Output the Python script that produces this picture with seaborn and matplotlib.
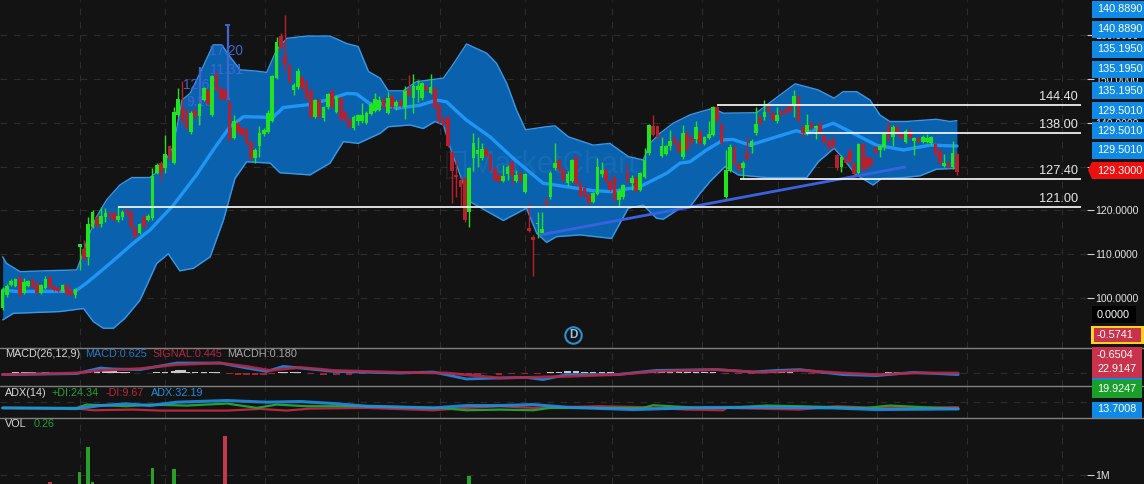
import numpy as np
import pandas as pd
import seaborn as sns
import matplotlib.pyplot as plt
from matplotlib.patches import Rectangle, Polygon
from matplotlib.lines import Line2D

# price candles
opens = [97.6,100.7,103.0,102.7,104.7,101.1,102.7,104.3,103.4,101.1,
         102.2,104.7,102.7,102.2,101.7,103.0,101.8,100.7,111.7,111.1,
         109.4,116.3,118.6,116.9,118.4,119.3,119.3,117.8,118.6,120.1,
         119.7,116.3,114.8,118.6,117.8,118.2,128.6,130.9,129.6,134.8,
         130.8,141.8,143.5,142.9,137.8,142.9,141.6,145.2,147.5,141.8,
         151.3,147.9,147.5,144.8,136.5,139.9,138.7,138.5,135.7,131.9,
         134.6,137.4,138.0,140.5,150.2,159.8,155.5,153.2,147.6,148.1,
         150.4,149.4,147.5,141.4,145.2,141.2,143.5,147.3,142.5,145.6,
         142.5,140.8,138.7,140.3,140.3,140.0,142.0,142.8,142.9,145.4,
         142.3,146.1,143.8,145.1,143.7,147.5,145.6,147.5,145.6,148.3,
         146.9,147.9,144.0,141.0,141.3,133.4,128.1,126.9,127.3,119.7,
         131.9,132.9,131.9,134.0,132.9,129.6,128.1,126.8,128.3,131.0,
         126.8,128.6,124.3,115.9,114.0,116.9,114.8,122.0,123.0,129.6,
         131.5,129.4,126.3,126.8,132.1,126.3,125.0,123.5,122.0,123.8,
         128.3,129.2,126.6,127.7,122.4,123.0,128.6,126.3,127.3,124.7,
         127.7,133.0,139.3,139.3,132.4,132.9,134.7,136.7,135.7,132.3,
         137.6,136.8,136.2,138.0,135.2,136.5,137.2,143.5,139.7,123.1,
         129.1,134.4,130.7,129.6,133.0,134.5,137.6,141.0,141.4,143.8,
         142.2,140.3,142.8,143.1,143.8,143.8,146.0,139.1,137.6,139.9,
         138.7,139.5,137.0,136.1,136.4,132.6,130.0,132.1,133.8,130.7,
         128.6,135.2,132.1,131.9,134.5,133.8,134.5,139.1,136.8,139.1,
         137.6,135.7,138.2,135.9,136.5,135.7,135.7,135.5,135.2,133.8,
         130.1,130.9,129.8,132.9]
closes = [101.8,102.7,103.9,104.3,100.7,103.7,103.9,102.6,101.1,103.0,
          104.3,102.4,101.8,101.7,103.0,100.9,100.7,102.0,112.3,108.8,
          116.9,119.7,116.4,118.7,119.3,118.6,117.9,118.7,119.7,119.3,
          116.3,114.0,116.9,116.3,118.8,127.9,130.4,128.6,132.9,131.7,
          142.5,145.5,140.3,138.7,142.3,141.4,144.3,147.9,144.4,150.7,
          147.5,145.4,145.4,136.1,140.3,137.8,137.2,135.3,131.9,133.9,
          137.6,138.4,142.2,150.7,158.5,157.0,153.2,149.4,148.6,151.9,
          147.9,145.6,141.4,145.1,141.4,143.5,146.5,143.7,146.1,140.8,
          140.8,139.0,141.4,141.8,141.8,142.3,144.4,145.4,145.2,143.5,
          145.6,143.5,144.8,143.8,147.3,146.4,148.3,148.3,149.2,147.6,
          148.1,143.7,140.3,139.5,134.7,128.9,127.7,125.4,117.7,129.6,
          135.5,133.8,134.0,132.4,129.2,126.9,126.6,127.9,130.0,128.1,
          128.1,126.8,128.3,115.2,113.3,117.2,115.8,121.5,128.5,130.9,
          129.4,126.9,128.3,131.5,126.0,123.3,123.2,121.8,123.9,129.8,
          129.2,126.6,124.7,122.4,124.5,125.8,126.6,127.3,124.5,128.5,
          131.5,139.5,137.2,136.8,134.7,134.7,135.9,135.3,133.4,137.6,
          133.8,135.3,139.0,135.3,136.7,137.4,143.5,140.5,135.5,129.2,
          134.4,130.6,129.2,130.9,131.7,135.9,139.7,139.9,142.5,142.5,
          140.6,141.8,141.8,142.2,142.8,146.1,140.5,137.6,139.5,138.7,
          139.3,137.6,135.7,134.2,134.5,129.6,132.3,130.9,131.1,128.3,
          135.2,129.2,129.6,130.4,133.2,134.7,137.4,136.2,139.1,137.6,
          136.5,138.2,136.5,136.5,135.7,136.8,136.5,136.8,132.6,130.9,
          130.9,130.0,133.0,128.8]
highs = [102.6,103.2,104.3,104.6,105.0,104.5,104.2,104.6,103.7,103.3,
         105.0,105.0,103.0,102.6,103.3,103.2,102.0,102.3,112.4,113.2,
         118.6,120.0,118.9,120.7,120.5,119.6,119.6,120.9,120.0,120.3,
         120.0,116.5,117.2,118.9,119.2,129.6,130.8,131.2,137.2,135.0,
         143.5,147.9,149.6,143.2,142.7,143.2,144.6,148.2,147.8,151.0,
         151.6,148.2,147.7,145.1,141.8,140.2,139.0,138.8,136.0,134.2,
         139.3,138.7,143.0,151.0,159.7,160.5,164.6,153.5,149.0,152.4,
         150.7,149.7,147.8,145.4,145.5,143.8,146.8,147.8,146.4,145.9,
         142.8,141.1,141.7,142.1,144.6,142.6,144.7,146.7,146.2,145.7,
         147.1,146.4,145.1,145.4,148.3,150.9,151.1,149.8,149.4,148.6,
         151.1,148.2,144.3,141.3,141.6,133.7,132.0,127.7,127.6,129.9,
         137.6,136.8,135.3,134.3,133.2,129.9,128.4,130.4,130.4,131.3,
         129.2,128.9,128.6,121.6,114.4,119.7,119.7,123.1,129.0,135.3,
         131.8,129.7,128.9,131.8,132.4,126.6,125.3,123.8,124.2,131.9,
         131.1,129.5,126.9,128.0,124.8,126.1,130.8,128.1,127.6,128.8,
         134.2,139.8,141.8,139.6,136.8,135.0,138.4,137.0,136.0,139.5,
         137.9,137.1,140.3,138.3,137.0,140.3,143.8,143.8,140.0,133.8,
         135.2,134.7,131.0,131.2,136.8,136.2,143.5,141.8,145.3,144.1,
         142.5,143.5,143.1,143.4,144.1,147.5,146.3,139.4,142.0,140.2,
         139.6,140.6,137.3,136.4,136.7,132.9,132.6,132.4,134.1,131.0,
         135.5,135.5,132.4,132.2,134.8,135.0,137.7,140.3,139.4,139.4,
         137.9,138.5,138.5,136.8,136.8,137.3,137.4,137.1,135.5,134.1,
         132.9,131.2,135.9,133.2]
lows = [97.2,100.2,102.7,102.4,100.3,100.9,102.4,102.3,100.9,100.8,
        102.0,102.1,101.5,101.4,101.4,100.6,100.4,100.0,106.4,108.6,
        107.5,116.0,116.1,116.3,117.4,118.3,117.6,117.4,117.8,119.0,
        116.0,113.6,114.5,116.0,117.5,117.9,128.2,126.6,128.5,131.4,
        130.5,141.4,140.0,138.3,137.5,141.1,139.5,144.9,144.1,141.5,
        147.2,145.1,145.1,135.8,136.2,137.5,136.9,135.0,131.6,130.9,
        132.3,137.1,137.7,140.2,149.9,156.7,151.7,149.1,146.3,147.8,
        147.6,145.3,141.1,141.1,141.1,140.3,143.2,143.4,142.2,140.5,
        140.5,138.7,138.4,139.6,140.0,139.7,141.7,142.5,142.6,143.2,
        142.0,143.2,142.9,143.5,140.8,146.1,142.3,144.8,145.3,147.3,
        146.6,143.4,140.0,139.2,134.4,121.6,123.1,120.9,117.4,116.3,
        128.9,130.0,131.5,132.1,128.9,126.6,126.3,126.5,127.0,125.8,
        126.5,126.5,123.9,115.0,105.0,113.6,114.6,120.9,122.7,129.3,
        129.1,126.6,125.6,126.5,125.7,123.0,122.9,121.5,121.7,123.5,
        127.7,126.3,124.4,122.1,120.9,122.7,126.3,124.7,124.2,124.4,
        127.4,132.7,136.9,136.5,132.1,132.6,133.8,135.0,133.1,131.7,
        133.5,135.0,135.5,135.0,134.9,136.2,136.9,140.2,135.2,122.8,
        128.8,130.3,128.9,127.3,131.4,133.0,137.3,139.6,140.6,142.2,
        140.3,140.0,141.5,141.9,142.5,141.4,140.2,136.8,137.3,138.4,
        136.4,137.3,135.4,133.9,134.2,129.3,128.8,130.6,130.8,128.0,
        128.3,128.9,129.3,130.1,132.9,132.1,133.8,135.9,134.7,137.3,
        136.2,135.4,136.2,132.6,135.4,135.4,135.4,134.9,132.3,130.6,
        129.8,129.7,129.5,128.1]

# bollinger bands, read at their bends (x = bar number)
upper_x = [0,0.9,4.1,9.5,17.3,18.5,20,22,24.3,27.4,30.2,34.4,36.8,39.9,41.9,43.8,46.1,49.2,51.2,53.1,55.5,59.4,61.7,64,66.4,71.1,76.5,80.4,83.1,85.5,88.2,
           90.1,93.6,96.7,103,104.9,107.2,108.4,113.1,115.4,117.8,120.1,122.2,127.1,129.1,132.2,138,141.9,146.2,149.7,151.3,153.6,156.7,
           160.6,163,166,168.4,176.2,180.1,185.2,187.9,190.6,194.3,196.4,199.6,202.7,205,207.3,211.2,218.2,221.4,223]
upper_y = [109.4,107.9,106,106.2,106.4,109.4,114,118.6,122.4,125.8,127.5,127.5,129.2,134.6,145.2,146.7,151.3,157.8,157.8,155.1,152.1,151.8,151.5,156.6,159.3,159.8,159.8,158.1,157.4,151.7,150.2,
           147.3,147.3,149.4,150.2,152.8,156.2,158,155.9,153.6,149,142.9,138.4,139.1,139.3,136.8,134.9,135.3,132.3,131.5,135.3,137.6,139.9,
           141.8,142.5,143.3,142.2,142.3,145.2,148.9,148.2,147.5,145.6,147.1,147.1,145.2,141.8,140.3,140.3,140.8,140.3,140.5]
lower_x = [0,2.5,13.4,18.9,21.2,23.5,25.9,28.6,32.1,36,37.5,38.7,41.4,44.6,48.5,51.6,54.3,57,62.5,64.8,71.8,76.5,79.6,83.1,88.2,
           90.1,95.2,98.3,101,103,104.9,109.2,117,122.4,124.8,127.1,129.4,134.9,142.3,146.2,149.7,152.8,154.4,158.3,
           160.6,163,165.3,168.8,171.9,178.5,187.9,190.6,194.3,196.4,199.2,203.4,205.4,210.5,214.4,218.2,223]
lower_y = [95,96.5,96.9,97.6,94.6,93.1,93.1,95.4,99.5,107.9,109.1,110.1,106.2,106.8,109.4,117.8,127.3,131.1,130.8,128.6,128.1,130.8,135.7,135.3,137.6,
           139.1,139.5,138.7,140.3,139.5,133.4,122,117.7,120.5,114.8,112.7,114,114.4,113.6,120.5,121.2,118.2,118,120.5,
           120.8,123.9,126.6,130,128.1,127.5,127.5,131.1,134.2,131.9,128.3,125.8,127.3,127.5,127.9,129.4,129.6]
mid_x = [0,3.3,12.6,16.9,19.6,25.1,30.5,34.4,39.9,45.3,49.2,53.1,56.3,60.9,62.9,65.6,71.1,75.7,80.4,82.7,86.2,
         88.2,92,97.5,101.4,103.7,108.4,113.9,119.3,126.3,131.8,138,142.3,148.9,155.2,158.3,
         160.6,164.5,168.4,170.7,174.6,185.5,187.5,194.1,197.2,204.2,210.5,216.7,223]
mid_y = [101.8,101.5,101.5,101.5,103.4,107.9,112.5,115.5,121.2,128.1,133.8,139.1,141.4,141.3,141,143.5,144.1,145.2,146.7,146.6,144.1,
         144.4,143.3,144,145.2,144.8,140.6,136.8,131.9,126.2,125.4,124.5,124.3,125.4,128.5,130.8,
         131.1,133.8,136.1,136.2,134.9,138.2,137.6,139.9,138.4,134.9,133.8,134.9,134.7]

# drawn price levels
level_vals = [144.1, 137.7, 127.2, 120.8]
level_labels = ["144.40", "138.00", "127.40", "121.00"]
level_start = [166.9, 187.7, 172.3, 26.9]
trend_x = [125.6, 210.8]
trend_y = [114.4, 129.9]

# macd panel
macd_x = [0,17.3,22.8,25.9,32.1,40.7,50.8,57,61.7,65.6,69.5,77.3,92.9,100.6,108.4,116.2,122.4,126.3,131.8,143.5,152.8,166.8,175.4,180.9,186.3,196.4,204.2,212.8,223.3]
macd_y = [-0.8,-0.3,2.5,2,1.7,5,5,2.5,0.8,3.3,2.5,0.8,0,0.5,-3,-2.5,-2.2,-3.3,-0.8,-0.8,1.3,1.7,0.5,1.3,1.7,-0.8,-1.3,0.3,-0.8]
signal_x = [0,17.3,22.8,32.1,40.7,50.8,57,62.5,69.5,77.3,92.9,103.8,116.2,122.4,131.8,143.5,152.8,166.8,176.9,186.3,196.4,204.2,212.8,223.3]
signal_y = [-0.8,0,1.3,2.2,4.2,5,3.3,1.3,2.8,1.3,0.3,0,-2.5,-2.2,-1.7,-0.8,0.8,1.7,0.3,1.3,0,-0.8,0,0]
macdh_x = [3,5,6,7,10,18,20,22,24,25,26,27,28,29,36,38,40,41,42,43,45,47,49,50,
           53,55,57,59,61,63,65,66,68,69,72,75,78,81,84,97,98,103,105,107,109,111,
           116,119,122,125,128,130,132,134,136,138,140,142,150,152,154,156,158,160,162,164,166,
           169,172,175,178,180,182,184,189,192,195,198,201,204,207,209,211,213]
macdh_y = [0.4,0.4,0.4,0.4,0.4,0.4,0.6,0.8,1,1,1,0.6,0.5,0.4,0.4,0.5,0.9,1.6,1.4,0.7,0.5,0.5,0.4,0.4,
           -0.7,-0.9,-1,-1,-0.9,-0.7,0.6,0.7,0.7,0.4,-0.5,-0.8,-0.8,-0.8,-0.7,0.5,0.5,-0.6,-1,-1.2,-1.2,-0.9,
           -0.8,-0.7,-0.6,-0.5,0.5,0.7,0.8,0.8,0.7,0.5,0.5,0.4,0.5,0.7,0.9,0.8,0.6,0.5,0.5,0.5,0.4,
           -0.6,-0.7,-0.6,0.6,0.8,0.7,0.5,-0.5,-0.7,-0.8,-0.8,-0.7,-0.5,0.6,0.7,0.6,0.4]

# adx panel
adx_x = [0,17.3,22.8,29,34.4,40.7,52.4,61.7,69.5,77.3,85.1,100.6,108.4,116.2,124,131.8,147.4,162.9,178.5,194.1,204.2,223.3]
adx_y = [31.5,29.4,38.9,44.1,38.9,49.4,54.6,49.4,51.5,45.2,36.8,31.5,38.9,38.9,42,33.6,26.3,32.6,33.6,31.5,26.3,28.4]
plus_x = [0,17.3,19.6,29,34.4,43,52.4,59.4,64,71,85.1,102.2,108.4,116.2,124,127.9,139.6,149.7,152,163,169.2,178.5,186.3,201.9,207.3,223.3]
plus_y = [31.5,31.5,42,36.8,42,38.9,45.2,31.5,42,36.8,36.8,31.5,24.2,26.3,24.2,31.5,31.5,31.5,39.9,31.5,31.5,38.9,36.8,31.5,38.9,28.4]
minus_x = [0,17.3,21.2,30.5,36.8,52.4,60.1,66.4,71.8,85.1,100.6,108.4,116.2,124,139.6,149.7,159.8,168.4,169.2,186.3,194.9,204.2,223.3]
minus_y = [31.5,29.4,24.2,26.3,23.1,23.1,28.4,23.1,29.4,31.5,24.2,31.5,36.8,31.5,36.8,33.6,26.3,24.2,31.5,26.3,36.8,31.5,33.6]

# volume
vol_x = [11, 18, 20, 21, 35, 40, 52, 109]
vol_y = [0.8, 1.08, 1.78, 0.8, 1.19, 1.17, 2.08, 0.97]
vol_dir = ["down", "up", "up", "up", "up", "up", "down", "up"]

price_ticks = [100, 110, 120, 130, 140, 150, 160]
price_tick_labels = ["100.0000", "110.0000", "120.0000", "", "140.0000", "150.0000", "160.0000"]
grid_bars = [18, 38, 61.3, 83, 102.2, 122, 142.4, 163.4, 181.2, 204.3, 225.3, 247.5]

badge_labels = ["140.8890", "140.8890", "135.1950", "135.1950", "135.1950", "129.5010", "129.5010", "129.5010"]

BG = "#131313"
GRID = "#2c2c2c"
GREEN = "#1fe51f"
RED = "#b8202e"
W, H = 1144, 484

sns.set_theme(style="dark")
plt.rcParams["font.family"] = ["Liberation Sans", "DejaVu Sans"]
plt.rcParams["axes.unicode_minus"] = False

fig = plt.figure(figsize=(W / 100, H / 100), dpi=100, facecolor=BG)


def panel(top, bottom):
    ax = fig.add_axes([0, 1 - bottom / H, 1087 / W, (bottom - top) / H], facecolor=BG)
    for s in ax.spines.values():
        s.set_visible(False)
    ax.set_xticks(grid_bars)
    ax.set_xticklabels([])
    ax.tick_params(axis="x", length=0)
    ax.tick_params(axis="y", length=0, labelleft=False)
    ax.grid(True, color=GRID, linestyle=(0, (6, 6)), linewidth=0.8)
    ax.set_axisbelow(True)
    ax.set_xlabel("")
    return ax


left_bar, right_bar = -0.62, 253.4

# main price panel
ax = panel(0, 348)
band_x = np.union1d(upper_x, lower_x)
ax.fill_between(band_x, np.interp(band_x, upper_x, upper_y), np.interp(band_x, lower_x, lower_y),
                color="#0a62ae", lw=0, zorder=1)
sns.lineplot(x=upper_x, y=upper_y, color="#3a98e6", lw=1.0, ax=ax, zorder=2, sort=False, errorbar=None)
sns.lineplot(x=lower_x, y=lower_y, color="#3a98e6", lw=1.0, ax=ax, zorder=2, sort=False, errorbar=None)
sns.lineplot(x=mid_x, y=mid_y, color="#1e96f5", lw=2.4, ax=ax, zorder=3, sort=False, errorbar=None)

# blue annotation marks, they sit under the candles
ANN = "#3f66cf"
ax.vlines([52.6, 46.2], [145.4, 139.5], [162.3, 152.8], colors=ANN, lw=1.6, zorder=3.5)
ax.hlines([162.3, 145.4], [52, 52], [53.2, 53.2], colors=ANN, lw=1.4, zorder=3.5)
for px, py, s in [(243, 51, "17.20"), (243, 70, "11.31"), (217, 85, "12.60"), (213, 102, "9.13")]:
    ax.text(px / 1087, 1 - py / 348, s, transform=ax.transAxes, color=ANN, fontsize=9.8, ha="right", va="center", zorder=3.5)

# faint watermark
ax.add_patch(Rectangle((447 / 1087, 1 - 178 / 348), 18 / 1087, 26 / 348, transform=ax.transAxes,
                       facecolor="none", edgecolor="white", alpha=0.05, lw=1.5, zorder=1.5))
ax.text(553 / 1087, 1 - 165 / 348, "MarketChart", transform=ax.transAxes, color="white", alpha=0.05, fontsize=22,
        ha="center", va="center", zorder=1.5)

bars = pd.DataFrame({"o": opens, "h": highs, "l": lows, "c": closes})
bars["x"] = bars.index
bars["col"] = np.where(bars.c >= bars.o, GREEN, RED)
ax.vlines(bars.x, bars.l, bars.h, colors=bars.col, lw=1.0, zorder=4)
ax.bar(bars.x, (bars.c - bars.o).abs(), bottom=bars[["o", "c"]].min(axis=1), width=0.86, color=bars.col, lw=0, zorder=5)

ax.plot(trend_x, trend_y, color="#3a62e0", lw=2, zorder=6)
for v, s, st in zip(level_vals, level_labels, level_start):
    ax.hlines(v, st, 252, color="white", lw=1.2, zorder=7)
    ax.text(251.3, v + 0.4, s, color="#e8e8e8", fontsize=9.2, ha="right", va="bottom", zorder=8)

ax.scatter([133.3], [91.6], s=140, facecolor=BG, edgecolor="#2b8fd0", lw=1.5, zorder=8)
ax.text(133.3, 91.5, "D", color="#8cc8f0", fontsize=8.5, fontweight="bold", ha="center", va="center", zorder=9)

ax.set_xlim(left_bar, right_bar)
ax.set_ylim(88.58, 168.04)
ax.set_yticks(price_ticks)
ax.yaxis.tick_right()
ax.tick_params(axis="y", length=5, width=0.8, color="#cfcfcf", labelright=True, labelleft=False, labelcolor="#e6e6e6", labelsize=7.6, pad=1)
ax.set_yticklabels(price_tick_labels)

# macd panel
ax2 = panel(348, 386)
ax2.bar(macdh_x, macdh_y, width=1.5, color=["#c8c8c8" if v > 0 else "#a52233" for v in macdh_y], lw=0)
sns.lineplot(x=macd_x, y=macd_y, color="#2878cc", lw=2, ax=ax2, sort=False, errorbar=None)
sns.lineplot(x=signal_x, y=signal_y, color="#b02a48", lw=2, alpha=0.9, ax=ax2, sort=False, errorbar=None)
ax2.set_xlim(left_bar, right_bar)
ax2.set_ylim(-6.5, 12.5)
ax2.set_yticks([0])

# adx panel
ax3 = panel(386, 418)
sns.lineplot(x=minus_x, y=minus_y, color="#b8283c", lw=1.6, ax=ax3, sort=False, errorbar=None)
sns.lineplot(x=plus_x, y=plus_y, color="#25a035", lw=1.6, ax=ax3, sort=False, errorbar=None)
sns.lineplot(x=adx_x, y=adx_y, color="#1f8ee0", lw=2.2, alpha=0.9, ax=ax3, sort=False, errorbar=None)
ax3.set_xlim(left_bar, right_bar)
ax3.set_ylim(0, 100)
ax3.set_yticks([50])

# volume panel
ax4 = panel(418, 484)
sns.barplot(x=vol_x, y=vol_y, hue=vol_dir, palette={"up": "#2aa02a", "down": "#c43a4c"}, native_scale=True,
            dodge=False, width=0.85, legend=False, saturation=1, edgecolor="none", linewidth=0, ax=ax4)
ax4.set_xticks(grid_bars)
ax4.set_xticklabels([])
ax4.set_xlabel("")
ax4.set_ylabel("")
ax4.set_xlim(left_bar, right_bar)
ax4.set_ylim(0.75, 2.58)
ax4.set_yticks([1])
ax4.yaxis.tick_right()
ax4.tick_params(axis="y", length=5, width=0.8, color="#cfcfcf", labelright=True, labelleft=False, labelcolor="#e6e6e6", labelsize=7.6, pad=1)
ax4.set_yticklabels(["1M"])


def fig_text(x, y, s, color, size=7.8, **kw):
    fig.text(x / W, 1 - y / H, s, color=color, fontsize=size, va="center", zorder=30, **kw)


def box(x0, y0, x1, y1, color, **kw):
    fig.add_artist(Rectangle((x0 / W, 1 - y1 / H), (x1 - x0) / W, (y1 - y0) / H, transform=fig.transFigure,
                             facecolor=color, lw=0, zorder=20, **kw))


# panel separators
for y in [348, 386, 418]:
    fig.add_artist(Line2D([0, 1], [1 - y / H] * 2, color="#808080", lw=1, zorder=10))

# panel titles
for x, y, s, c in [(5, 354, "MACD(26,12,9)", "#d8d8d8"), (85, 354, "MACD:0.625", "#2878cc"),
                   (152, 354, "SIGNAL:0.445", "#b02a48"), (227, 354, "MACDH:0.180", "#a8a8a8"),
                   (5, 393, "ADX(14)", "#d8d8d8"), (52, 393, "+DI:24.34", "#25a035"),
                   (106, 393, "-DI:9.67", "#b8283c"), (151, 393, "ADX:32.19", "#1f8ee0"),
                   (5, 424, "VOL", "#d8d8d8"), (34, 424, "0.26", "#25a035")]:
    fig_text(x, y, s, c)

# right side price tags
BLUE = "#0f8ae6"
tag_tops = [1, 21, 41, 61, 82, 102, 122, 142]
for top, s in zip(tag_tops, badge_labels):
    box(1092, top, 1144, top + 17, BLUE)
    fig_text(1097, top + 8.5, s, "white")

fig.add_artist(Polygon([(1088 / W, 1 - 170 / H), (1092 / W, 1 - 162 / H), (1144 / W, 1 - 162 / H),
                        (1144 / W, 1 - 179 / H), (1092 / W, 1 - 179 / H)],
                       transform=fig.transFigure, facecolor="#ee0f0f", lw=0, zorder=20))
fig_text(1097, 170.5, "129.3000", "white")

box(1092, 306, 1136, 323, "black")
fig_text(1097, 314.5, "0.0000", "white")
box(1091, 326, 1144, 344, "#ffd21e")
box(1094, 328, 1141, 342, "#c8324a")
fig_text(1097, 335, "-0.5741", "white")
box(1092, 347, 1142, 366, "#c8324a")
fig_text(1097, 354.5, "-0.6504", "white")
box(1092, 378, 1142, 382, BLUE)
box(1092, 362, 1142, 378, "#c8324a")
fig_text(1097, 369.5, "22.9147", "white")
box(1092, 380, 1142, 398, "#1aa02a")
fig_text(1097, 389, "19.9247", "white")
box(1092, 402, 1142, 418, BLUE)
fig_text(1097, 409, "13.7008", "white")

fig.savefig("out.png", dpi=100, facecolor=BG)
